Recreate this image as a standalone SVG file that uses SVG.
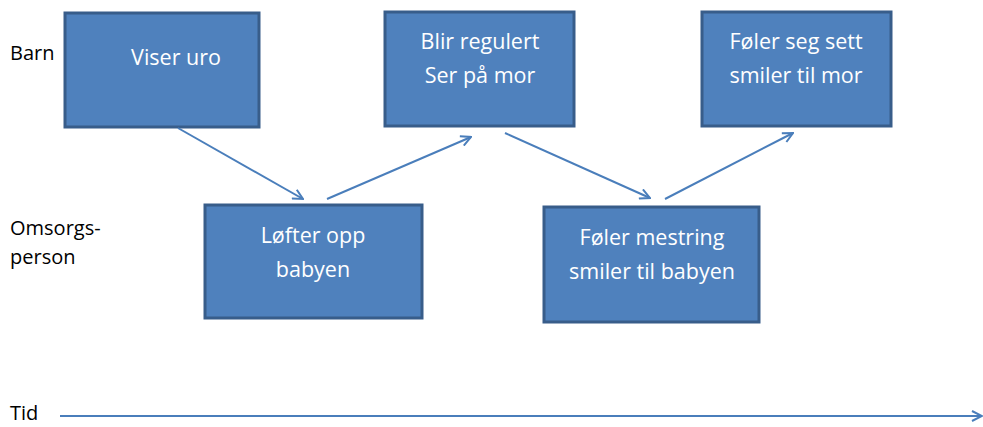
<svg xmlns="http://www.w3.org/2000/svg" width="983" height="427" viewBox="0 0 983 427">
<style>
.box{fill:#4F81BD;stroke:#385D8A;stroke-width:3}
.t{font-family:"Open Sans","Liberation Sans",sans-serif;font-size:21.5px;fill:#fff;text-anchor:middle}
.l{font-family:"Open Sans","Liberation Sans",sans-serif;font-size:20px;fill:#000}
.c{stroke:#4A7EBB;stroke-width:2;fill:none;marker-end:url(#ah)}
</style>
<defs>
<marker id="ah" viewBox="0 0 12 12" refX="11" refY="6" markerWidth="12" markerHeight="12" markerUnits="userSpaceOnUse" orient="auto">
<path d="M1,1 L11,6 L1,11" fill="none" stroke="#4A7EBB" stroke-width="2"/>
</marker>
</defs>
<rect width="983" height="427" fill="#fff"/>
<g id="labels">
<text class="l" x="10" y="60">Barn</text>
<text class="l" x="10" y="235">Omsorgs-</text>
<text class="l" x="10" y="264">person</text>
<text class="l" x="10" y="420" font-size="19">Tid</text>
</g>
<g id="n1"><rect class="box" x="65" y="13" width="194" height="114"/><text class="t" x="176" y="65">Viser uro</text></g>
<g id="n2"><rect class="box" x="385" y="12" width="189" height="114"/><text class="t" x="480" y="49">Blir regulert</text><text class="t" x="480" y="83">Ser på mor</text></g>
<g id="n3"><rect class="box" x="702" y="12" width="189" height="114"/><text class="t" x="796" y="49">Føler seg sett</text><text class="t" x="796" y="83">smiler til mor</text></g>
<g id="n4"><rect class="box" x="205" y="205" width="217" height="113"/><text class="t" x="313" y="243">Løfter opp</text><text class="t" x="313" y="277">babyen</text></g>
<g id="n5"><rect class="box" x="544" y="207" width="215" height="115"/><text class="t" x="652" y="245">Føler mestring</text><text class="t" x="652" y="279">smiler til babyen</text></g>
<g id="connectors">
<line class="c" x1="178" y1="128" x2="303" y2="199"/>
<line class="c" x1="327" y1="199" x2="471" y2="137"/>
<line class="c" x1="505" y1="133" x2="650" y2="198"/>
<line class="c" x1="665" y1="199" x2="793" y2="133"/>
<line class="c" x1="60" y1="416" x2="982" y2="416"/>
</g>
</svg>
